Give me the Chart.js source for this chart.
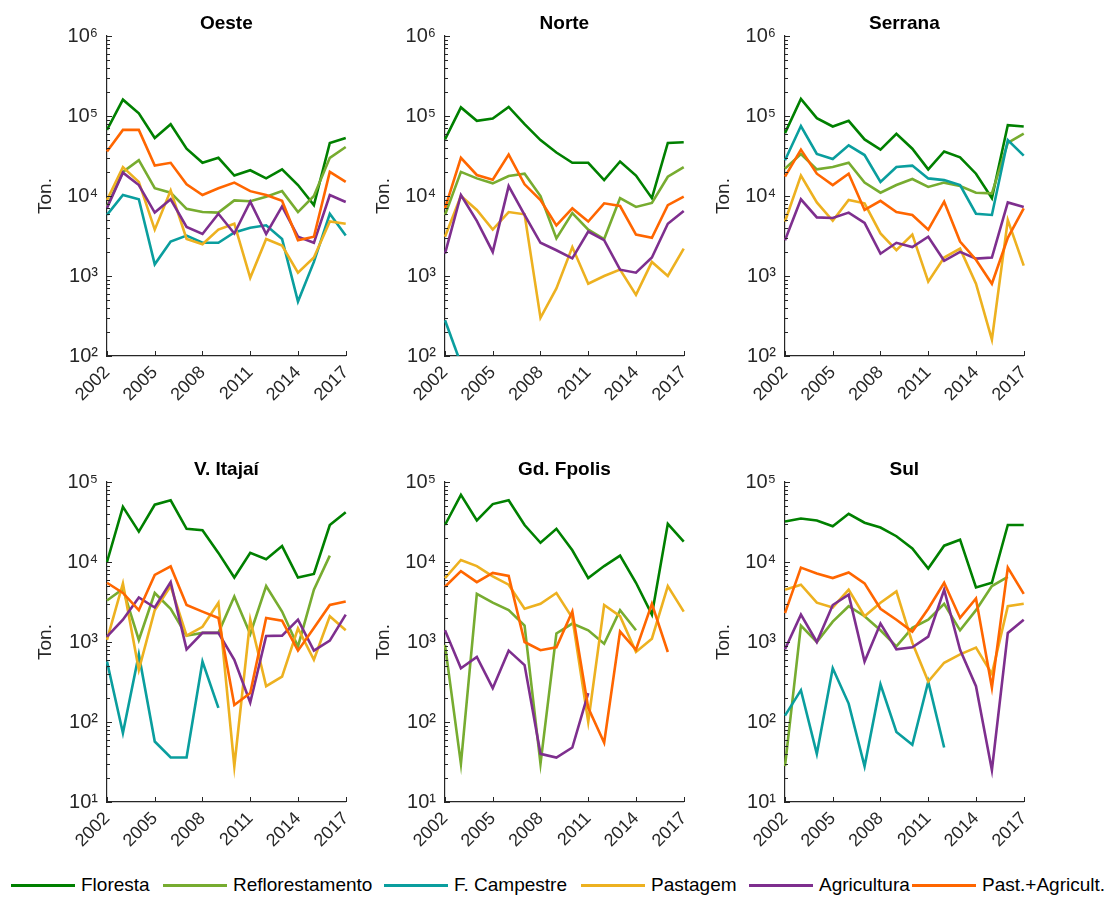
<!DOCTYPE html>
<html>
<head>
<meta charset="utf-8">
<script src="https://cdn.jsdelivr.net/npm/chart.js"></script>
<style>
  body { margin: 0; background: #fff; width: 1111px; height: 899px; overflow: hidden; position: relative; font-family: "Liberation Sans", Arial, sans-serif; }
  canvas { position: absolute; }
  .leg { position: absolute; top: 873px; height: 24px; display: flex; align-items: center; font-size: 19px; color: #000; white-space: nowrap; }
  .leg span { display: inline-block; width: 64px; height: 0; border-top: 3px solid; margin-right: 6px; }
</style>
</head>
<body>
<script>
const years = ['2002','2003','2004','2005','2006','2007','2008','2009','2010','2011','2012','2013','2014','2015','2016','2017'];
const seriesNames = ['Floresta', 'Reflorestamento', 'F. Campestre', 'Pastagem', 'Agricultura', 'Past.+Agricult.'];
const colors = ['#008000', '#77AC30', '#0A9E9E', '#EDB120', '#7E2F8E', '#FF6600'];
const _ = null;

// Oeste
const oesteFloresta  = [67000,160000,108000,53000,79000,39000,26000,30000,18000,21000,16600,21500,13700,7700,46000,53000];
const oesteReflor    = [7400,20000,28000,12500,11000,6900,6300,6200,8800,8600,9800,11500,6300,10000,30000,41000];
const oesteCampestre = [5800,10300,9100,1400,2700,3200,2600,2600,3500,4000,4300,2900,480,1500,6000,3200];
const oestePastagem  = [8900,23000,15000,3800,11700,2900,2500,3800,4500,950,2900,2400,1100,1700,4800,4500];
const oesteAgric     = [7100,19600,13700,6200,9100,4100,3350,6000,3400,8500,3350,7400,3100,2600,10300,8400];
const oestePastAgr   = [36000,67000,67000,24000,26000,14000,10300,12500,14700,11500,10300,8700,2800,3100,20000,15000];

// Norte
const norteFloresta  = [51000,128000,87000,93000,130000,79000,50000,35000,26000,26000,15800,27000,18000,9400,46000,47000];
const norteReflor    = [5800,20000,16600,14400,17800,19000,10000,2950,6100,3800,2900,9400,7300,8200,17400,23000];
const norteCampestre = [280,80,_,_,_,_,_,_,_,_,_,_,_,_,_,_];
const nortePastagem  = [3100,10000,6700,3800,6300,5900,300,700,2300,800,1000,1200,580,1500,1000,2200];
const norteAgric     = [1900,10300,4900,2000,13300,5800,2600,2100,1660,3600,2800,1200,1100,1700,4500,6500];
const nortePastAgr   = [7000,30000,18300,16000,33000,14000,8900,4300,7000,4800,8100,7500,3300,3000,7700,9800];

// Serrana
const serranaFloresta  = [61000,163000,94000,74000,87000,51000,38000,60000,39000,21500,36000,30500,19000,9400,77000,74000];
const serranaReflor    = [22000,33500,21500,23000,26000,14700,11000,13700,16300,13000,14700,13300,11000,10800,46000,60000];
const serranaCampestre = [28000,75000,33500,29000,43000,32500,15000,23000,24000,16600,15800,13700,6000,5800,50000,32000];
const serranaPastagem  = [4800,18000,8300,4900,8900,8100,3400,2100,3300,850,1700,2200,800,160,5000,1350];
const serranaAgric     = [2800,9100,5400,5300,6200,4600,1900,2600,2300,3100,1550,2000,1650,1700,8300,7300];
const serranaPastAgr   = [17500,38000,19000,13700,19000,6700,8700,6300,5800,3800,8500,2700,1600,800,3000,7000];

// V. Itajaí
const itajaiFloresta  = [10000,49000,24000,52000,59000,26000,25000,13000,6400,13000,10800,15800,6400,7100,29000,42000];
const itajaiReflor    = [3300,4600,1060,4100,2600,1200,1300,1300,3700,1260,5000,2400,880,4500,12000,_];
const itajaiCampestre = [570,73,700,57,36,36,570,150,_,_,_,_,_,_,_,_];
const itajaiPastagem  = [1060,5400,450,2500,5000,1200,1550,3100,28,1900,280,370,1480,600,2100,1400];
const itajaiAgric     = [1170,1900,3600,2700,5600,810,1300,1300,600,175,1190,1200,1900,780,1040,2200];
const itajaiPastAgr   = [5500,4100,2500,6900,8800,2900,2400,2000,163,230,2000,1850,780,1500,2900,3200];

// Gd. Fpolis
const fpolisFloresta  = [29000,69000,33000,53000,59000,29000,17400,26000,14000,6300,8900,12000,5500,2200,30000,18000];
const fpolisReflor    = [920,30,4000,3100,2500,1600,30,1280,1700,1400,950,2500,1400,_,_,_];
const fpolisCampestre = [_,_,_,_,_,_,_,_,_,_,_,_,_,_,_,_];
const fpolisPastagem  = [6300,10600,8900,6600,5200,2600,3000,4100,2000,100,2900,2100,750,1100,5000,2400];
const fpolisAgric     = [1400,470,650,265,780,515,40,36,48,230,_,_,_,_,_,_];
const fpolisPastAgr   = [4900,7700,5600,7300,6700,1000,790,860,2400,150,55,1350,800,3000,750,_];

// Sul
const sulFloresta  = [32000,35000,33000,28000,40000,31000,27000,21000,14800,8300,16000,19000,4800,5500,29000,29000];
const sulReflor    = [28,1600,1000,1800,2800,2100,1400,880,1500,1900,3000,1400,2500,5000,6500,_];
const sulCampestre = [120,250,40,470,170,28,295,75,52,320,48,_,_,_,_,_];
const sulPastagem  = [4500,5200,3100,2700,4500,2100,3100,4300,980,320,550,700,850,400,2800,3000];
const sulAgric     = [810,2200,1000,2900,3900,570,1700,810,860,1170,4500,800,280,25,1300,1900];
const sulPastAgr   = [2300,8500,7200,6300,7400,5400,2600,1900,1350,2600,5500,2000,3500,270,8500,4000];

const panels = [
  { title: 'Oeste', left: 107, top: 36, min: 1e2, max: 1e6,
    data: [oesteFloresta, oesteReflor, oesteCampestre, oestePastagem, oesteAgric, oestePastAgr] },
  { title: 'Norte', left: 445, top: 36, min: 1e2, max: 1e6,
    data: [norteFloresta, norteReflor, norteCampestre, nortePastagem, norteAgric, nortePastAgr] },
  { title: 'Serrana', left: 785, top: 36, min: 1e2, max: 1e6,
    data: [serranaFloresta, serranaReflor, serranaCampestre, serranaPastagem, serranaAgric, serranaPastAgr] },
  { title: 'V. Itajaí', left: 107, top: 482, min: 1e1, max: 1e5,
    data: [itajaiFloresta, itajaiReflor, itajaiCampestre, itajaiPastagem, itajaiAgric, itajaiPastAgr] },
  { title: 'Gd. Fpolis', left: 445, top: 482, min: 1e1, max: 1e5,
    data: [fpolisFloresta, fpolisReflor, fpolisCampestre, fpolisPastagem, fpolisAgric, fpolisPastAgr] },
  { title: 'Sul', left: 785, top: 482, min: 1e1, max: 1e5,
    data: [sulFloresta, sulReflor, sulCampestre, sulPastagem, sulAgric, sulPastAgr] }
];

const family = '"Liberation Sans", Arial, sans-serif';
const axisColor = '#262626';
const sup = { 1: '¹', 2: '²', 3: '³', 4: '⁴', 5: '⁵', 6: '⁶' };

function yLabel(v) {
  const e = Math.log10(v);
  return Math.abs(e - Math.round(e)) < 1e-9 ? '10' + sup[Math.round(e)] : '';
}

// MATLAB style ticks pointing into the plot
const innerTicks = {
  id: 'innerTicks',
  afterDraw(chart) {
    const { ctx, chartArea: a, scales: { x, y } } = chart;
    ctx.save();
    ctx.strokeStyle = axisColor;
    ctx.lineWidth = 1;
    ctx.beginPath();
    y.ticks.forEach(t => {
      const py = Math.round(y.getPixelForValue(t.value)) + 0.5;
      ctx.moveTo(a.left, py);
      ctx.lineTo(a.left + (t.label ? 5 : 3), py);
    });
    x.ticks.forEach((t, i) => {
      if (i % 3) return;
      const px = Math.round(x.getPixelForValue(i)) + 0.5;
      ctx.moveTo(px, a.bottom);
      ctx.lineTo(px, a.bottom - 5);
    });
    ctx.stroke();
    ctx.restore();
  }
};

panels.forEach(p => {
  const cv = document.createElement('canvas');
  cv.width = 360;
  cv.height = 426;
  cv.style.left = (p.left - 100) + 'px';
  cv.style.top = (p.top - 36) + 'px';
  document.body.appendChild(cv);

  new Chart(cv, {
    type: 'line',
    data: {
      labels: years,
      datasets: seriesNames.map((name, i) => ({
        label: name,
        data: p.data[i],
        borderColor: colors[i],
        backgroundColor: colors[i],
        borderWidth: 2.6,
        pointRadius: 0,
        tension: 0,
        spanGaps: false,
        order: 5 - i
      }))
    },
    options: {
      responsive: false,
      animation: false,
      devicePixelRatio: 1,
      layout: { padding: { left: 0, right: 20, top: 0, bottom: 0 } },
      plugins: {
        legend: { display: false },
        tooltip: { enabled: false },
        title: {
          display: true, text: p.title, fullSize: false, color: '#000',
          font: { size: 19, weight: 'bold', family },
          padding: { top: 12.6, bottom: 0.6 }
        }
      },
      scales: {
        x: {
          type: 'category',
          offset: false,
          grid: { display: false, drawTicks: false },
          border: { display: true, color: axisColor, width: 1.2 },
          ticks: {
            autoSkip: false, maxRotation: 45, minRotation: 45, padding: 6,
            color: axisColor, font: { size: 18, family },
            callback: (v, i) => (i % 3 === 0 ? years[i] : '')
          },
          afterFit: s => { s.height = 70; }
        },
        y: {
          type: 'logarithmic',
          min: p.min,
          max: p.max,
          grid: { display: false, drawTicks: false },
          border: { display: true, color: axisColor, width: 1.2 },
          title: { display: true, text: 'Ton.', color: axisColor, font: { size: 19, family }, padding: { top: 27, bottom: 0 } },
          ticks: { autoSkip: false, padding: 9, color: axisColor, font: { size: 20, family }, callback: yLabel },
          afterBuildTicks: s => {
            const out = [];
            const lo = Math.round(Math.log10(s.min)), hi = Math.round(Math.log10(s.max));
            for (let e = lo; e < hi; e++) {
              for (let k = 1; k < 10; k++) out.push({ value: k * Math.pow(10, e) });
            }
            out.push({ value: Math.pow(10, hi) });
            s.ticks = out;
          },
          afterFit: s => { s.width = 100; }
        }
      }
    },
    plugins: [innerTicks]
  });
});

// legend row
const legendLeft = [11, 163, 384, 581, 749, 912];
seriesNames.forEach((name, i) => {
  const d = document.createElement('div');
  d.className = 'leg';
  d.style.left = legendLeft[i] + 'px';
  d.innerHTML = '<span style="border-color:' + colors[i] + '"></span>' + name;
  document.body.appendChild(d);
});
</script>
</body>
</html>
